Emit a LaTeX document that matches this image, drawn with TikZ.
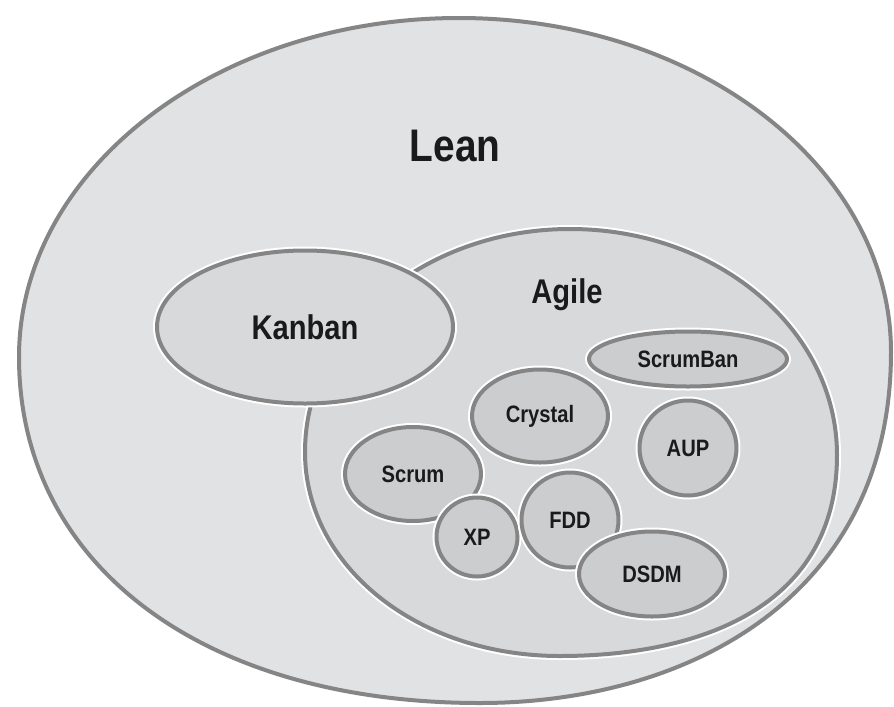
\documentclass[tikz,border=0pt]{standalone}
\usepackage{fontspec}
\setmainfont{Liberation Sans}[FakeStretch=0.85]
\usetikzlibrary{shapes.geometric}

\definecolor{rim}{HTML}{858585}
\definecolor{leanfill}{HTML}{E1E2E4}
\definecolor{agilefill}{HTML}{D8D9DB}
\definecolor{methodfill}{HTML}{CCCDCF}
\definecolor{ink}{HTML}{1A1A1A}

\tikzset{
  rimline/.style = {draw=rim, line width=0.8mm,
    preaction={draw=white, line width=1.6mm}},
  blob/.style = {ellipse, rimline, inner sep=0pt, text=ink},
  size/.style 2 args = {minimum width=#1*0.2mm, minimum height=#2*0.2mm},
  big/.style = {font=\bfseries\fontsize{26}{28}\selectfont, text=ink},
  mid/.style = {font=\bfseries\fontsize{19.5}{21}\selectfont, text=ink},
  small/.style = {font=\bfseries\fontsize{13.5}{15}\selectfont}
}

\begin{document}
\begin{tikzpicture}[x=0.2mm,y=-0.2mm]
  \useasboundingbox (0,0) rectangle (894,706);

  % Draw the outer set, a little fuller at the bottom right
  \draw [rimline,fill=leanfill] (19,357)
    .. controls (19,170) and (216,18) .. (459,18)
    .. controls (698,18) and (891,168) .. (891,352)
    .. controls (891,598) and (686,703) .. (480,703)
    .. controls (203,703) and (19,565) .. (19,357) -- cycle;
  \node [big,anchor=base] (leanlabel) at (455,161) {Lean};

  % Draw Agile inside Lean
  \draw [rimline,fill=agilefill] (305,452)
    .. controls (305,329) and (424,229) .. (570,229)
    .. controls (718,229) and (837,330) .. (837,455)
    .. controls (837,616) and (685,656) .. (560,656)
    .. controls (417,656) and (305,566) .. (305,452) -- cycle;
  \node [mid,anchor=base] (agilelabel) at (567,303) {Agile};

  % Draw Kanban over the edge of Agile
  \node [blob,mid,size={296}{153},fill=agilefill] (kanban) at (305,327) {Kanban};

  % Draw the methods inside Agile
  \node [blob,small,size={198}{55},fill=methodfill] (scrumban) at (688,359) {ScrumBan};
  \node [blob,small,size={136}{93},fill=methodfill] (crystal) at (540,416) {Crystal};
  \node [blob,small,size={97}{95},fill=methodfill] (aup) at (688,448) {AUP};
  \node [blob,small,size={136}{94},fill=methodfill] (scrum) at (413,474) {Scrum};
  \node [blob,small,size={81}{79},fill=methodfill] (xp) at (477,537) {XP};
  \node [blob,small,size={97}{95},fill=methodfill] (fdd) at (570,520) {FDD};
  \node [blob,small,size={146}{85},fill=methodfill] (dsdm) at (652,574) {DSDM};

\end{tikzpicture}
\end{document}
